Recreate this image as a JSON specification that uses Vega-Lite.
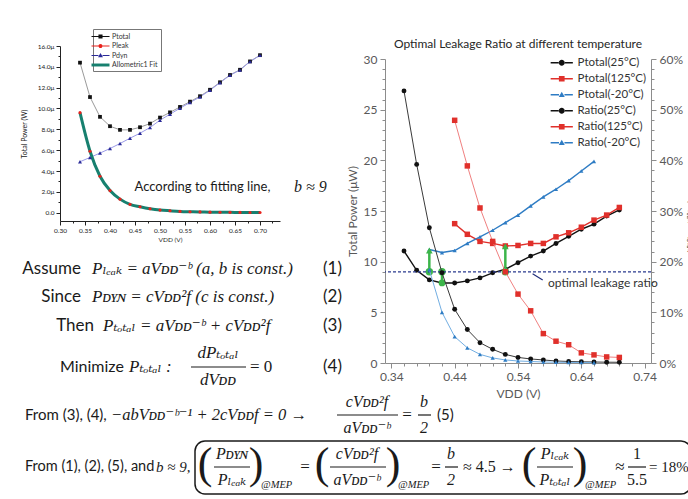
{
  "$schema": "https://vega.github.io/schema/vega-lite/v6.json",
  "background": "white",
  "padding": {"left": 20, "top": 28, "right": 0, "bottom": 0},
  "autosize": {"type": "pad"},
  "bounds": "flush",
  "spacing": 105,
  "resolve": {"scale": {"color": "independent", "shape": "independent"}, "legend": {"color": "independent", "shape": "independent"}},
  "config": {
    "font": "Lato",
    "view": {"stroke": null},
    "axis": {"grid": false, "labelFlush": false, "labelOverlap": false, "titleFontWeight": "normal"},
    "title": {"font": "Lato", "fontWeight": "normal"}
  },
  "datasets": {
    "left": [
      {"vdd":0.34,"series":"Ptotal","value":14.4},{"vdd":0.36,"series":"Ptotal","value":11.1},{"vdd":0.38,"series":"Ptotal","value":9.2},{"vdd":0.40,"series":"Ptotal","value":8.3},{"vdd":0.42,"series":"Ptotal","value":7.95},{"vdd":0.44,"series":"Ptotal","value":7.95},{"vdd":0.46,"series":"Ptotal","value":8.2},{"vdd":0.48,"series":"Ptotal","value":8.55},{"vdd":0.50,"series":"Ptotal","value":9.13},{"vdd":0.52,"series":"Ptotal","value":9.63},{"vdd":0.54,"series":"Ptotal","value":10.15},{"vdd":0.56,"series":"Ptotal","value":10.66},{"vdd":0.58,"series":"Ptotal","value":11.18},{"vdd":0.60,"series":"Ptotal","value":11.8},{"vdd":0.62,"series":"Ptotal","value":12.52},{"vdd":0.64,"series":"Ptotal","value":13.22},{"vdd":0.66,"series":"Ptotal","value":13.72},{"vdd":0.68,"series":"Ptotal","value":14.52},{"vdd":0.70,"series":"Ptotal","value":15.12},
      {"vdd":0.34,"series":"Pleak","value":9.6},{"vdd":0.36,"series":"Pleak","value":5.9},{"vdd":0.38,"series":"Pleak","value":3.5},{"vdd":0.40,"series":"Pleak","value":2.12},{"vdd":0.42,"series":"Pleak","value":1.3},{"vdd":0.44,"series":"Pleak","value":0.8},{"vdd":0.46,"series":"Pleak","value":0.57},{"vdd":0.48,"series":"Pleak","value":0.38},{"vdd":0.50,"series":"Pleak","value":0.25},{"vdd":0.52,"series":"Pleak","value":0.18},{"vdd":0.54,"series":"Pleak","value":0.12},{"vdd":0.56,"series":"Pleak","value":0.09},{"vdd":0.58,"series":"Pleak","value":0.07},{"vdd":0.60,"series":"Pleak","value":0.05},{"vdd":0.62,"series":"Pleak","value":0.04},{"vdd":0.64,"series":"Pleak","value":0.03},{"vdd":0.66,"series":"Pleak","value":0.025},{"vdd":0.68,"series":"Pleak","value":0.02},{"vdd":0.70,"series":"Pleak","value":0.015},
      {"vdd":0.34,"series":"Pdyn","value":4.89},{"vdd":0.36,"series":"Pdyn","value":5.3},{"vdd":0.38,"series":"Pdyn","value":5.72},{"vdd":0.40,"series":"Pdyn","value":6.16},{"vdd":0.42,"series":"Pdyn","value":6.64},{"vdd":0.44,"series":"Pdyn","value":7.15},{"vdd":0.46,"series":"Pdyn","value":7.63},{"vdd":0.48,"series":"Pdyn","value":8.17},{"vdd":0.50,"series":"Pdyn","value":8.88},{"vdd":0.52,"series":"Pdyn","value":9.45},{"vdd":0.54,"series":"Pdyn","value":10.03},{"vdd":0.56,"series":"Pdyn","value":10.57},{"vdd":0.58,"series":"Pdyn","value":11.11},{"vdd":0.60,"series":"Pdyn","value":11.75},{"vdd":0.62,"series":"Pdyn","value":12.48},{"vdd":0.64,"series":"Pdyn","value":13.19},{"vdd":0.66,"series":"Pdyn","value":13.7},{"vdd":0.68,"series":"Pdyn","value":14.5},{"vdd":0.70,"series":"Pdyn","value":15.1},
      {"vdd":0.34,"series":"Allometric1 Fit","value":9.6},{"vdd":0.36,"series":"Allometric1 Fit","value":5.9},{"vdd":0.38,"series":"Allometric1 Fit","value":3.5},{"vdd":0.40,"series":"Allometric1 Fit","value":2.12},{"vdd":0.42,"series":"Allometric1 Fit","value":1.3},{"vdd":0.44,"series":"Allometric1 Fit","value":0.8},{"vdd":0.46,"series":"Allometric1 Fit","value":0.57},{"vdd":0.48,"series":"Allometric1 Fit","value":0.38},{"vdd":0.50,"series":"Allometric1 Fit","value":0.25},{"vdd":0.52,"series":"Allometric1 Fit","value":0.18},{"vdd":0.54,"series":"Allometric1 Fit","value":0.12},{"vdd":0.56,"series":"Allometric1 Fit","value":0.09},{"vdd":0.58,"series":"Allometric1 Fit","value":0.07},{"vdd":0.60,"series":"Allometric1 Fit","value":0.05},{"vdd":0.62,"series":"Allometric1 Fit","value":0.04},{"vdd":0.64,"series":"Allometric1 Fit","value":0.03},{"vdd":0.66,"series":"Allometric1 Fit","value":0.025},{"vdd":0.68,"series":"Allometric1 Fit","value":0.02},{"vdd":0.70,"series":"Allometric1 Fit","value":0.015}
    ],
    "right": [
      {"vdd":0.36,"series":"Ptotal(25°C)","value":11.05},{"vdd":0.38,"series":"Ptotal(25°C)","value":9.15},{"vdd":0.40,"series":"Ptotal(25°C)","value":8.2},{"vdd":0.42,"series":"Ptotal(25°C)","value":7.9},{"vdd":0.44,"series":"Ptotal(25°C)","value":7.9},{"vdd":0.46,"series":"Ptotal(25°C)","value":8.1},{"vdd":0.48,"series":"Ptotal(25°C)","value":8.4},{"vdd":0.50,"series":"Ptotal(25°C)","value":8.9},{"vdd":0.52,"series":"Ptotal(25°C)","value":9.25},{"vdd":0.54,"series":"Ptotal(25°C)","value":9.9},{"vdd":0.56,"series":"Ptotal(25°C)","value":10.55},{"vdd":0.58,"series":"Ptotal(25°C)","value":11.05},{"vdd":0.60,"series":"Ptotal(25°C)","value":11.8},{"vdd":0.62,"series":"Ptotal(25°C)","value":12.5},{"vdd":0.64,"series":"Ptotal(25°C)","value":13.2},{"vdd":0.66,"series":"Ptotal(25°C)","value":13.7},{"vdd":0.68,"series":"Ptotal(25°C)","value":14.5},{"vdd":0.70,"series":"Ptotal(25°C)","value":15.1},
      {"vdd":0.44,"series":"Ptotal(125°C)","value":13.75},{"vdd":0.46,"series":"Ptotal(125°C)","value":12.7},{"vdd":0.48,"series":"Ptotal(125°C)","value":12.0},{"vdd":0.50,"series":"Ptotal(125°C)","value":11.8},{"vdd":0.52,"series":"Ptotal(125°C)","value":11.55},{"vdd":0.54,"series":"Ptotal(125°C)","value":11.6},{"vdd":0.56,"series":"Ptotal(125°C)","value":11.8},{"vdd":0.58,"series":"Ptotal(125°C)","value":11.8},{"vdd":0.60,"series":"Ptotal(125°C)","value":12.45},{"vdd":0.62,"series":"Ptotal(125°C)","value":12.85},{"vdd":0.64,"series":"Ptotal(125°C)","value":13.4},{"vdd":0.66,"series":"Ptotal(125°C)","value":14.1},{"vdd":0.68,"series":"Ptotal(125°C)","value":14.6},{"vdd":0.70,"series":"Ptotal(125°C)","value":15.35},
      {"vdd":0.40,"series":"Ptotal(-20°C)","value":11.2},{"vdd":0.42,"series":"Ptotal(-20°C)","value":10.9},{"vdd":0.44,"series":"Ptotal(-20°C)","value":11.1},{"vdd":0.46,"series":"Ptotal(-20°C)","value":11.8},{"vdd":0.48,"series":"Ptotal(-20°C)","value":12.45},{"vdd":0.50,"series":"Ptotal(-20°C)","value":13.1},{"vdd":0.52,"series":"Ptotal(-20°C)","value":13.85},{"vdd":0.54,"series":"Ptotal(-20°C)","value":14.6},{"vdd":0.56,"series":"Ptotal(-20°C)","value":15.5},{"vdd":0.58,"series":"Ptotal(-20°C)","value":16.4},{"vdd":0.60,"series":"Ptotal(-20°C)","value":17.15},{"vdd":0.62,"series":"Ptotal(-20°C)","value":18.0},{"vdd":0.64,"series":"Ptotal(-20°C)","value":18.95},{"vdd":0.66,"series":"Ptotal(-20°C)","value":19.9},
      {"vdd":0.36,"series":"Ratio(25°C)","value":0.537},{"vdd":0.38,"series":"Ratio(25°C)","value":0.392},{"vdd":0.40,"series":"Ratio(25°C)","value":0.267},{"vdd":0.42,"series":"Ratio(25°C)","value":0.178},{"vdd":0.44,"series":"Ratio(25°C)","value":0.106},{"vdd":0.46,"series":"Ratio(25°C)","value":0.066},{"vdd":0.48,"series":"Ratio(25°C)","value":0.04},{"vdd":0.50,"series":"Ratio(25°C)","value":0.027},{"vdd":0.52,"series":"Ratio(25°C)","value":0.017},{"vdd":0.54,"series":"Ratio(25°C)","value":0.011},{"vdd":0.56,"series":"Ratio(25°C)","value":0.008},{"vdd":0.58,"series":"Ratio(25°C)","value":0.006},{"vdd":0.60,"series":"Ratio(25°C)","value":0.004},{"vdd":0.62,"series":"Ratio(25°C)","value":0.003},{"vdd":0.64,"series":"Ratio(25°C)","value":0.0024},{"vdd":0.66,"series":"Ratio(25°C)","value":0.002},{"vdd":0.68,"series":"Ratio(25°C)","value":0.0016},{"vdd":0.70,"series":"Ratio(25°C)","value":0.0014},
      {"vdd":0.44,"series":"Ratio(125°C)","value":0.479},{"vdd":0.46,"series":"Ratio(125°C)","value":0.389},{"vdd":0.48,"series":"Ratio(125°C)","value":0.306},{"vdd":0.50,"series":"Ratio(125°C)","value":0.24},{"vdd":0.52,"series":"Ratio(125°C)","value":0.18},{"vdd":0.54,"series":"Ratio(125°C)","value":0.136},{"vdd":0.56,"series":"Ratio(125°C)","value":0.103},{"vdd":0.58,"series":"Ratio(125°C)","value":0.058},{"vdd":0.60,"series":"Ratio(125°C)","value":0.043},{"vdd":0.62,"series":"Ratio(125°C)","value":0.036},{"vdd":0.64,"series":"Ratio(125°C)","value":0.02},{"vdd":0.66,"series":"Ratio(125°C)","value":0.016},{"vdd":0.68,"series":"Ratio(125°C)","value":0.012},{"vdd":0.70,"series":"Ratio(125°C)","value":0.011},
      {"vdd":0.40,"series":"Ratio(-20°C)","value":0.184},{"vdd":0.42,"series":"Ratio(-20°C)","value":0.1},{"vdd":0.44,"series":"Ratio(-20°C)","value":0.052},{"vdd":0.46,"series":"Ratio(-20°C)","value":0.03},{"vdd":0.48,"series":"Ratio(-20°C)","value":0.017},{"vdd":0.50,"series":"Ratio(-20°C)","value":0.01},{"vdd":0.52,"series":"Ratio(-20°C)","value":0.006},{"vdd":0.54,"series":"Ratio(-20°C)","value":0.004},{"vdd":0.56,"series":"Ratio(-20°C)","value":0.003},{"vdd":0.58,"series":"Ratio(-20°C)","value":0.002},{"vdd":0.60,"series":"Ratio(-20°C)","value":0.0016},{"vdd":0.62,"series":"Ratio(-20°C)","value":0.0012},{"vdd":0.64,"series":"Ratio(-20°C)","value":0.001},{"vdd":0.66,"series":"Ratio(-20°C)","value":0.0008}
    ],
    "green": [
      {"vdd":0.40,"low":9.0,"high":11.1},
      {"vdd":0.42,"low":9.0,"high":7.9},
      {"vdd":0.52,"low":9.0,"high":11.5}
    ],
    "eq": [
      {"key":"assume","text":"Assume"},
      {"key":"f1","text":"Pₗₑₐₖ = aVᴅᴅ⁻ᵇ (a, b is const.)"},
      {"key":"n1","text":"(1)"},
      {"key":"since","text":"Since"},
      {"key":"f2","text":"Pᴅʏɴ = cVᴅᴅ²f (c is const.)"},
      {"key":"n2","text":"(2)"},
      {"key":"then","text":"Then"},
      {"key":"f3","text":"Pₜₒₜₐₗ = aVᴅᴅ⁻ᵇ + cVᴅᴅ²f"},
      {"key":"n3","text":"(3)"},
      {"key":"minimize","text":"Minimize"},
      {"key":"f4a","text":"Pₜₒₜₐₗ :"},
      {"key":"f4frac","text":"dPₜₒₜₐₗ\ndVᴅᴅ"},
      {"key":"f4b","text":"= 0"},
      {"key":"n4","text":"(4)"},
      {"key":"from34","text":"From (3), (4),"},
      {"key":"f5a","text":"−abVᴅᴅ⁻ᵇ⁻¹ + 2cVᴅᴅf = 0 →"},
      {"key":"f5frac","text":"cVᴅᴅ²f\naVᴅᴅ⁻ᵇ"},
      {"key":"f5eq","text":"="},
      {"key":"f5b","text":"b\n2"},
      {"key":"n5","text":"(5)"},
      {"key":"from125","text":"From (1), (2), (5), and"},
      {"key":"b9","text":"b ≈ 9,"},
      {"key":"box","text":""},
      {"key":"lp1","text":"("},
      {"key":"rp1","text":")"},
      {"key":"frac1","text":"Pᴅʏɴ\nPₗₑₐₖ"},
      {"key":"mep1","text":"@MEP"},
      {"key":"eqA","text":"="},
      {"key":"lp2","text":"("},
      {"key":"rp2","text":")"},
      {"key":"frac2","text":"cVᴅᴅ²f\naVᴅᴅ⁻ᵇ"},
      {"key":"mep2","text":"@MEP"},
      {"key":"eqB","text":"="},
      {"key":"frac3","text":"b\n2"},
      {"key":"approx45","text":"≈ 4.5 →"},
      {"key":"lp3","text":"("},
      {"key":"rp3","text":")"},
      {"key":"frac4","text":"Pₗₑₐₖ\nPₜₒₜₐₗ"},
      {"key":"mep3","text":"@MEP"},
      {"key":"approx","text":"≈"},
      {"key":"frac5","text":"1\n5.5"},
      {"key":"pct","text":"= 18%"}
    ]
  },
  "hconcat": [
    {
      "width": 220,
      "height": 175,
      "resolve": {"scale": {"x": "independent", "y": "independent"}},
      "layer": [
        {
          "data": {"name": "left"},
          "layer": [
            {
              "transform": [{"filter": "datum.series == 'Ptotal'"}],
              "mark": {"type": "line", "color": "#9a9a9a", "strokeWidth": 1},
              "encoding": {
                "x": {"field": "vdd", "type": "quantitative", "scale": {"domain": [0.3, 0.74], "nice": false, "zero": false},
                  "axis": {"values": [0.3,0.325,0.35,0.375,0.4,0.425,0.45,0.475,0.5,0.525,0.55,0.575,0.6,0.625,0.65,0.675,0.7,0.725],
                    "tickCount": 200,
                    "labelExpr": "round(datum.value*1000) % 50 == 0 ? format(datum.value, '.2f') : ''",
                    "labelOverlap": false, "labelFlush": false,
                    "tickSize": {"condition": {"test": "round(datum.value*1000) % 50 == 0", "value": 4}, "value": 2},
                    "labelFontSize": 6.5, "labelColor": "#222", "domainColor": "#222", "tickColor": "#222", "labelPadding": 2,
                    "title": "VDD (V)", "titleFontSize": 6.5, "titleColor": "#222", "titlePadding": 3}},
                "y": {"field": "value", "type": "quantitative", "scale": {"domain": [-0.8, 16], "nice": false, "zero": false},
                  "axis": {"values": [0,1,2,3,4,5,6,7,8,9,10,11,12,13,14,15,16],
                    "tickCount": 200,
                    "labelExpr": "datum.value % 2 == 0 ? (datum.value == 0 ? '0.0' : format(datum.value, '.1f') + 'μ') : ''",
                    "labelOverlap": false,
                    "tickSize": {"condition": {"test": "datum.value % 2 == 0", "value": 4}, "value": 2},
                    "labelFontSize": 6.5, "labelColor": "#222", "domainColor": "#222", "tickColor": "#222", "labelPadding": 2,
                    "title": "Total Power (W)", "titleFontSize": 7, "titleColor": "#222", "titlePadding": 10}}
              }
            },
            {
              "transform": [{"filter": "datum.series == 'Pdyn'"}],
              "mark": {"type": "line", "color": "#9a9ae8", "strokeWidth": 1},
              "encoding": {"x": {"field": "vdd", "type": "quantitative"}, "y": {"field": "value", "type": "quantitative"}}
            },
            {
              "transform": [{"filter": "datum.series == 'Pleak'"}],
              "mark": {"type": "line", "color": "#e8221c", "strokeWidth": 1},
              "encoding": {"x": {"field": "vdd", "type": "quantitative"}, "y": {"field": "value", "type": "quantitative"}}
            },
            {
              "transform": [{"filter": "datum.series == 'Allometric1 Fit'"}],
              "mark": {"type": "line", "color": "#17806f", "strokeWidth": 3, "interpolate": "monotone"},
              "encoding": {"x": {"field": "vdd", "type": "quantitative"}, "y": {"field": "value", "type": "quantitative"}}
            },
            {
              "transform": [{"filter": "datum.series == 'Ptotal'"}],
              "mark": {"type": "point", "shape": "square", "filled": true, "color": "#111", "size": 14, "opacity": 1},
              "encoding": {"x": {"field": "vdd", "type": "quantitative"}, "y": {"field": "value", "type": "quantitative"}}
            },
            {
              "transform": [{"filter": "datum.series == 'Pleak'"}],
              "mark": {"type": "point", "shape": "circle", "filled": true, "color": "#e8221c", "size": 10, "opacity": 1},
              "encoding": {"x": {"field": "vdd", "type": "quantitative"}, "y": {"field": "value", "type": "quantitative"}}
            },
            {
              "transform": [{"filter": "datum.series == 'Pdyn'"}],
              "mark": {"type": "point", "shape": "triangle-up", "filled": true, "color": "#2a2a98", "size": 16, "opacity": 1},
              "encoding": {"x": {"field": "vdd", "type": "quantitative"}, "y": {"field": "value", "type": "quantitative"}}
            },
            {
              "transform": [{"filter": "false"}],
              "mark": {"type": "point", "filled": true, "opacity": 1, "strokeWidth": 0},
              "encoding": {
                "color": {"field": "series", "type": "nominal",
                  "scale": {"domain": ["Ptotal", "Pleak", "Pdyn", "Allometric1 Fit"], "range": ["#111111", "#e8221c", "#2a2a98", "#17806f"]},
                  "legend": {"title": null, "orient": "none", "legendX": 33, "legendY": -17, "padding": 3,
                    "strokeColor": "#777", "fillColor": "white", "labelFontSize": 7, "labelColor": "#333",
                    "labelOffset": 7, "rowPadding": 1.5, "symbolSize": 67, "symbolStrokeWidth": 0}},
                "shape": {"field": "series", "type": "nominal",
                  "scale": {"domain": ["Ptotal", "Pleak", "Pdyn", "Allometric1 Fit"],
                    "range": [
                      "M-2.2,-0.12H-0.5V0.12H-2.2Z M0.5,-0.12H2.2V0.12H0.5Z M-0.5,-0.5H0.5V0.5H-0.5Z",
                      "M-2.2,-0.12H-0.5V0.12H-2.2Z M0.5,-0.12H2.2V0.12H0.5Z M-0.5,0A0.5,0.5 0 1,0 0.5,0A0.5,0.5 0 1,0 -0.5,0Z",
                      "M-2.2,-0.12H-0.5V0.12H-2.2Z M0.5,-0.12H2.2V0.12H0.5Z M0,-0.6L0.6,0.45H-0.6Z",
                      "M-2.2,-0.36H2.2V0.36H-2.2Z"
                    ]}}
              }
            },
            {
              "data": {"values": [{"label": "According to fitting line,"}]},
              "mark": {"type": "text", "align": "left", "baseline": "middle", "font": "Lato", "fontSize": 13, "color": "#1a1a1a"},
              "encoding": {"x": {"datum": 0.449}, "y": {"datum": 2.46}, "text": {"field": "label"}}
            },
            {
              "data": {"values": [{"label": "b ≈ 9"}]},
              "mark": {"type": "text", "align": "left", "baseline": "middle", "font": "Liberation Serif", "fontStyle": "italic", "fontSize": 16, "color": "#1a1a1a"},
              "encoding": {"x": {"datum": 0.768}, "y": {"datum": 2.46}, "text": {"field": "label"}}
            }
          ]
        },
        {
          "data": {"name": "eq"},
          "layer": [
            {"transform": [{"filter": "datum.key == 'assume'"}], "mark": {"type": "text", "align": "right", "baseline": "middle", "font": "Lato", "fontSize": 17, "color": "#1a1a1a"},
             "encoding": {"x": {"datum": 76, "type": "quantitative", "scale": {"domain": [55, 275], "nice": false, "zero": false}, "axis": null},
                          "y": {"datum": 268, "type": "quantitative", "scale": {"domain": [45, 220], "nice": false, "zero": false, "reverse": true}, "axis": null},
                          "text": {"field": "text"}}},
            {"transform": [{"filter": "datum.key == 'f1'"}], "mark": {"type": "text", "align": "left", "baseline": "middle", "font": "Liberation Serif, DejaVu Serif", "fontStyle": "italic", "fontSize": 17, "color": "#1a1a1a"},
             "encoding": {"x": {"datum": 87, "axis": null}, "y": {"datum": 268, "axis": null}, "text": {"field": "text"}}},
            {"transform": [{"filter": "datum.key == 'n1'"}], "mark": {"type": "text", "align": "left", "baseline": "middle", "font": "Lato", "fontSize": 17, "color": "#1a1a1a"},
             "encoding": {"x": {"datum": 318, "axis": null}, "y": {"datum": 268, "axis": null}, "text": {"field": "text"}}},
            {"transform": [{"filter": "datum.key == 'since'"}], "mark": {"type": "text", "align": "right", "baseline": "middle", "font": "Lato", "fontSize": 17, "color": "#1a1a1a"},
             "encoding": {"x": {"datum": 76, "axis": null}, "y": {"datum": 296, "axis": null}, "text": {"field": "text"}}},
            {"transform": [{"filter": "datum.key == 'f2'"}], "mark": {"type": "text", "align": "left", "baseline": "middle", "font": "Liberation Serif, DejaVu Serif", "fontStyle": "italic", "fontSize": 17, "color": "#1a1a1a"},
             "encoding": {"x": {"datum": 87, "axis": null}, "y": {"datum": 296, "axis": null}, "text": {"field": "text"}}},
            {"transform": [{"filter": "datum.key == 'n2'"}], "mark": {"type": "text", "align": "left", "baseline": "middle", "font": "Lato", "fontSize": 17, "color": "#1a1a1a"},
             "encoding": {"x": {"datum": 318, "axis": null}, "y": {"datum": 296, "axis": null}, "text": {"field": "text"}}},
            {"transform": [{"filter": "datum.key == 'then'"}], "mark": {"type": "text", "align": "right", "baseline": "middle", "font": "Lato", "fontSize": 17, "color": "#1a1a1a"},
             "encoding": {"x": {"datum": 89, "axis": null}, "y": {"datum": 325, "axis": null}, "text": {"field": "text"}}},
            {"transform": [{"filter": "datum.key == 'f3'"}], "mark": {"type": "text", "align": "left", "baseline": "middle", "font": "Liberation Serif, DejaVu Serif", "fontStyle": "italic", "fontSize": 17, "color": "#1a1a1a"},
             "encoding": {"x": {"datum": 98, "axis": null}, "y": {"datum": 325, "axis": null}, "text": {"field": "text"}}},
            {"transform": [{"filter": "datum.key == 'n3'"}], "mark": {"type": "text", "align": "left", "baseline": "middle", "font": "Lato", "fontSize": 17, "color": "#1a1a1a"},
             "encoding": {"x": {"datum": 318, "axis": null}, "y": {"datum": 325, "axis": null}, "text": {"field": "text"}}},
            {"transform": [{"filter": "datum.key == 'minimize'"}], "mark": {"type": "text", "align": "left", "baseline": "middle", "font": "Lato", "fontSize": 16, "color": "#1a1a1a"},
             "encoding": {"x": {"datum": 55, "axis": null}, "y": {"datum": 366, "axis": null}, "text": {"field": "text"}}},
            {"transform": [{"filter": "datum.key == 'f4a'"}], "mark": {"type": "text", "align": "left", "baseline": "middle", "font": "Liberation Serif, DejaVu Serif", "fontStyle": "italic", "fontSize": 17, "color": "#1a1a1a"},
             "encoding": {"x": {"datum": 124, "axis": null}, "y": {"datum": 366, "axis": null}, "text": {"field": "text"}}},
            {"transform": [{"filter": "datum.key == 'f4frac'"}], "mark": {"type": "text", "align": "center", "baseline": "middle", "lineBreak": "\n", "lineHeight": 27, "font": "Liberation Serif, DejaVu Serif", "fontStyle": "italic", "fontSize": 17, "color": "#1a1a1a"},
             "encoding": {"x": {"datum": 213, "axis": null}, "y": {"datum": 352, "axis": null}, "text": {"field": "text"}}},
            {"transform": [{"filter": "datum.key == 'f4frac'"}], "mark": {"type": "rule", "color": "#1a1a1a", "strokeWidth": 1.2},
             "encoding": {"x": {"datum": 186, "axis": null}, "x2": {"datum": 241}, "y": {"datum": 366, "axis": null}}},
            {"transform": [{"filter": "datum.key == 'f4b'"}], "mark": {"type": "text", "align": "left", "baseline": "middle", "font": "Liberation Serif, DejaVu Serif", "fontSize": 17, "color": "#1a1a1a"},
             "encoding": {"x": {"datum": 245, "axis": null}, "y": {"datum": 366, "axis": null}, "text": {"field": "text"}}},
            {"transform": [{"filter": "datum.key == 'n4'"}], "mark": {"type": "text", "align": "left", "baseline": "middle", "font": "Lato", "fontSize": 17, "color": "#1a1a1a"},
             "encoding": {"x": {"datum": 318, "axis": null}, "y": {"datum": 366, "axis": null}, "text": {"field": "text"}}},
            {"transform": [{"filter": "datum.key == 'from34'"}], "mark": {"type": "text", "align": "left", "baseline": "middle", "font": "Lato", "fontSize": 15, "color": "#1a1a1a"},
             "encoding": {"x": {"datum": 20, "axis": null}, "y": {"datum": 414, "axis": null}, "text": {"field": "text"}}},
            {"transform": [{"filter": "datum.key == 'f5a'"}], "mark": {"type": "text", "align": "left", "baseline": "middle", "font": "Liberation Serif, DejaVu Serif", "fontStyle": "italic", "fontSize": 16.5, "color": "#1a1a1a"},
             "encoding": {"x": {"datum": 106, "axis": null}, "y": {"datum": 414, "axis": null}, "text": {"field": "text"}}},
            {"transform": [{"filter": "datum.key == 'f5frac'"}], "mark": {"type": "text", "align": "center", "baseline": "middle", "lineBreak": "\n", "lineHeight": 26, "font": "Liberation Serif, DejaVu Serif", "fontStyle": "italic", "fontSize": 16, "color": "#1a1a1a"},
             "encoding": {"x": {"datum": 362, "axis": null}, "y": {"datum": 401, "axis": null}, "text": {"field": "text"}}},
            {"transform": [{"filter": "datum.key == 'f5frac'"}], "mark": {"type": "rule", "color": "#1a1a1a", "strokeWidth": 1.2},
             "encoding": {"x": {"datum": 332, "axis": null}, "x2": {"datum": 393}, "y": {"datum": 414, "axis": null}}},
            {"transform": [{"filter": "datum.key == 'f5eq'"}], "mark": {"type": "text", "align": "center", "baseline": "middle", "font": "Liberation Serif, DejaVu Serif", "fontSize": 17, "color": "#1a1a1a"},
             "encoding": {"x": {"datum": 402, "axis": null}, "y": {"datum": 414, "axis": null}, "text": {"field": "text"}}},
            {"transform": [{"filter": "datum.key == 'f5b'"}], "mark": {"type": "text", "align": "center", "baseline": "middle", "lineBreak": "\n", "lineHeight": 26, "font": "Liberation Serif, DejaVu Serif", "fontStyle": "italic", "fontSize": 16, "color": "#1a1a1a"},
             "encoding": {"x": {"datum": 419, "axis": null}, "y": {"datum": 401, "axis": null}, "text": {"field": "text"}}},
            {"transform": [{"filter": "datum.key == 'f5b'"}], "mark": {"type": "rule", "color": "#1a1a1a", "strokeWidth": 1.2},
             "encoding": {"x": {"datum": 413, "axis": null}, "x2": {"datum": 426}, "y": {"datum": 414, "axis": null}}},
            {"transform": [{"filter": "datum.key == 'n5'"}], "mark": {"type": "text", "align": "left", "baseline": "middle", "font": "Lato", "fontSize": 15, "color": "#1a1a1a"},
             "encoding": {"x": {"datum": 432, "axis": null}, "y": {"datum": 414, "axis": null}, "text": {"field": "text"}}},
            {"transform": [{"filter": "datum.key == 'from125'"}], "mark": {"type": "text", "align": "left", "baseline": "middle", "font": "Lato", "fontSize": 14.5, "color": "#1a1a1a"},
             "encoding": {"x": {"datum": 20, "axis": null}, "y": {"datum": 466, "axis": null}, "text": {"field": "text"}}},
            {"transform": [{"filter": "datum.key == 'b9'"}], "mark": {"type": "text", "align": "left", "baseline": "middle", "font": "Liberation Serif, DejaVu Serif", "fontStyle": "italic", "fontSize": 15, "color": "#1a1a1a"},
             "encoding": {"x": {"datum": 151, "axis": null}, "y": {"datum": 466, "axis": null}, "text": {"field": "text"}}},
            {"transform": [{"filter": "datum.key == 'box'"}], "mark": {"type": "rect", "fill": null, "fillOpacity": 0, "stroke": "#1a1a1a", "strokeWidth": 1.5, "cornerRadius": 10},
             "encoding": {"x": {"datum": 190, "axis": null}, "x2": {"datum": 686}, "y": {"datum": 440, "axis": null}, "y2": {"datum": 493}}},
            {"transform": [{"filter": "datum.key == 'lp1'"}], "mark": {"type": "text", "align": "center", "baseline": "middle", "font": "Liberation Serif", "fontSize": 44, "color": "#1a1a1a"},
             "encoding": {"x": {"datum": 200, "axis": null}, "y": {"datum": 464, "axis": null}, "text": {"field": "text"}}},
            {"transform": [{"filter": "datum.key == 'frac1'"}], "mark": {"type": "text", "align": "center", "baseline": "middle", "lineBreak": "\n", "lineHeight": 26, "font": "Liberation Serif, DejaVu Serif", "fontStyle": "italic", "fontSize": 16, "color": "#1a1a1a"},
             "encoding": {"x": {"datum": 227, "axis": null}, "y": {"datum": 453, "axis": null}, "text": {"field": "text"}}},
            {"transform": [{"filter": "datum.key == 'frac1'"}], "mark": {"type": "rule", "color": "#1a1a1a", "strokeWidth": 1.2},
             "encoding": {"x": {"datum": 209, "axis": null}, "x2": {"datum": 245}, "y": {"datum": 466, "axis": null}}},
            {"transform": [{"filter": "datum.key == 'rp1'"}], "mark": {"type": "text", "align": "center", "baseline": "middle", "font": "Liberation Serif", "fontSize": 44, "color": "#1a1a1a"},
             "encoding": {"x": {"datum": 251, "axis": null}, "y": {"datum": 464, "axis": null}, "text": {"field": "text"}}},
            {"transform": [{"filter": "datum.key == 'mep1'"}], "mark": {"type": "text", "align": "left", "baseline": "middle", "font": "Liberation Serif", "fontStyle": "italic", "fontSize": 10.5, "color": "#1a1a1a"},
             "encoding": {"x": {"datum": 256, "axis": null}, "y": {"datum": 484, "axis": null}, "text": {"field": "text"}}},
            {"transform": [{"filter": "datum.key == 'eqA'"}], "mark": {"type": "text", "align": "center", "baseline": "middle", "font": "Liberation Serif", "fontSize": 17, "color": "#1a1a1a"},
             "encoding": {"x": {"datum": 300, "axis": null}, "y": {"datum": 466, "axis": null}, "text": {"field": "text"}}},
            {"transform": [{"filter": "datum.key == 'lp2'"}], "mark": {"type": "text", "align": "center", "baseline": "middle", "font": "Liberation Serif", "fontSize": 44, "color": "#1a1a1a"},
             "encoding": {"x": {"datum": 317, "axis": null}, "y": {"datum": 464, "axis": null}, "text": {"field": "text"}}},
            {"transform": [{"filter": "datum.key == 'frac2'"}], "mark": {"type": "text", "align": "center", "baseline": "middle", "lineBreak": "\n", "lineHeight": 26, "font": "Liberation Serif, DejaVu Serif", "fontStyle": "italic", "fontSize": 16, "color": "#1a1a1a"},
             "encoding": {"x": {"datum": 352, "axis": null}, "y": {"datum": 453, "axis": null}, "text": {"field": "text"}}},
            {"transform": [{"filter": "datum.key == 'frac2'"}], "mark": {"type": "rule", "color": "#1a1a1a", "strokeWidth": 1.2},
             "encoding": {"x": {"datum": 325, "axis": null}, "x2": {"datum": 381}, "y": {"datum": 466, "axis": null}}},
            {"transform": [{"filter": "datum.key == 'rp2'"}], "mark": {"type": "text", "align": "center", "baseline": "middle", "font": "Liberation Serif", "fontSize": 44, "color": "#1a1a1a"},
             "encoding": {"x": {"datum": 388, "axis": null}, "y": {"datum": 464, "axis": null}, "text": {"field": "text"}}},
            {"transform": [{"filter": "datum.key == 'mep2'"}], "mark": {"type": "text", "align": "left", "baseline": "middle", "font": "Liberation Serif", "fontStyle": "italic", "fontSize": 10.5, "color": "#1a1a1a"},
             "encoding": {"x": {"datum": 393, "axis": null}, "y": {"datum": 484, "axis": null}, "text": {"field": "text"}}},
            {"transform": [{"filter": "datum.key == 'eqB'"}], "mark": {"type": "text", "align": "center", "baseline": "middle", "font": "Liberation Serif", "fontSize": 17, "color": "#1a1a1a"},
             "encoding": {"x": {"datum": 431, "axis": null}, "y": {"datum": 466, "axis": null}, "text": {"field": "text"}}},
            {"transform": [{"filter": "datum.key == 'frac3'"}], "mark": {"type": "text", "align": "center", "baseline": "middle", "lineBreak": "\n", "lineHeight": 26, "font": "Liberation Serif, DejaVu Serif", "fontStyle": "italic", "fontSize": 16, "color": "#1a1a1a"},
             "encoding": {"x": {"datum": 446, "axis": null}, "y": {"datum": 453, "axis": null}, "text": {"field": "text"}}},
            {"transform": [{"filter": "datum.key == 'frac3'"}], "mark": {"type": "rule", "color": "#1a1a1a", "strokeWidth": 1.2},
             "encoding": {"x": {"datum": 440, "axis": null}, "x2": {"datum": 453}, "y": {"datum": 466, "axis": null}}},
            {"transform": [{"filter": "datum.key == 'approx45'"}], "mark": {"type": "text", "align": "left", "baseline": "middle", "font": "Liberation Serif", "fontSize": 16, "color": "#1a1a1a"},
             "encoding": {"x": {"datum": 458, "axis": null}, "y": {"datum": 466, "axis": null}, "text": {"field": "text"}}},
            {"transform": [{"filter": "datum.key == 'lp3'"}], "mark": {"type": "text", "align": "center", "baseline": "middle", "font": "Liberation Serif", "fontSize": 44, "color": "#1a1a1a"},
             "encoding": {"x": {"datum": 524, "axis": null}, "y": {"datum": 464, "axis": null}, "text": {"field": "text"}}},
            {"transform": [{"filter": "datum.key == 'frac4'"}], "mark": {"type": "text", "align": "center", "baseline": "middle", "lineBreak": "\n", "lineHeight": 26, "font": "Liberation Serif, DejaVu Serif", "fontStyle": "italic", "fontSize": 16, "color": "#1a1a1a"},
             "encoding": {"x": {"datum": 550, "axis": null}, "y": {"datum": 453, "axis": null}, "text": {"field": "text"}}},
            {"transform": [{"filter": "datum.key == 'frac4'"}], "mark": {"type": "rule", "color": "#1a1a1a", "strokeWidth": 1.2},
             "encoding": {"x": {"datum": 532, "axis": null}, "x2": {"datum": 568}, "y": {"datum": 466, "axis": null}}},
            {"transform": [{"filter": "datum.key == 'rp3'"}], "mark": {"type": "text", "align": "center", "baseline": "middle", "font": "Liberation Serif", "fontSize": 44, "color": "#1a1a1a"},
             "encoding": {"x": {"datum": 575, "axis": null}, "y": {"datum": 464, "axis": null}, "text": {"field": "text"}}},
            {"transform": [{"filter": "datum.key == 'mep3'"}], "mark": {"type": "text", "align": "left", "baseline": "middle", "font": "Liberation Serif", "fontStyle": "italic", "fontSize": 10.5, "color": "#1a1a1a"},
             "encoding": {"x": {"datum": 580, "axis": null}, "y": {"datum": 484, "axis": null}, "text": {"field": "text"}}},
            {"transform": [{"filter": "datum.key == 'approx'"}], "mark": {"type": "text", "align": "center", "baseline": "middle", "font": "Liberation Serif", "fontSize": 17, "color": "#1a1a1a"},
             "encoding": {"x": {"datum": 615, "axis": null}, "y": {"datum": 466, "axis": null}, "text": {"field": "text"}}},
            {"transform": [{"filter": "datum.key == 'frac5'"}], "mark": {"type": "text", "align": "center", "baseline": "middle", "lineBreak": "\n", "lineHeight": 26, "font": "Liberation Serif", "fontSize": 16, "color": "#1a1a1a"},
             "encoding": {"x": {"datum": 632, "axis": null}, "y": {"datum": 453, "axis": null}, "text": {"field": "text"}}},
            {"transform": [{"filter": "datum.key == 'frac5'"}], "mark": {"type": "rule", "color": "#1a1a1a", "strokeWidth": 1.2},
             "encoding": {"x": {"datum": 623, "axis": null}, "x2": {"datum": 641}, "y": {"datum": 466, "axis": null}}},
            {"transform": [{"filter": "datum.key == 'pct'"}], "mark": {"type": "text", "align": "left", "baseline": "middle", "font": "Liberation Serif", "fontSize": 15, "color": "#1a1a1a"},
             "encoding": {"x": {"datum": 644, "axis": null}, "y": {"datum": 466, "axis": null}, "text": {"field": "text"}}}
          ]
        }
      ]
    },
    {
      "width": 266,
      "height": 317,
      "title": {"text": "Optimal Leakage Ratio at different temperature", "fontSize": 12, "color": "#262626", "offset": -5, "frame": "group", "anchor": "middle", "font": "Lato", "fontWeight": "normal"},
      "data": {"name": "right"},
      "resolve": {"scale": {"y": "independent"}},
      "layer": [
        {
          "layer": [
            {
              "transform": [{"filter": "indexof(datum.series, 'Ptotal') == 0"}],
              "mark": {"type": "line", "strokeWidth": 1.4},
              "encoding": {
                "x": {"field": "vdd", "type": "quantitative", "scale": {"domain": [0.33, 0.75], "nice": false, "zero": false},
                  "axis": {"values": [0.34,0.36,0.38,0.4,0.42,0.44,0.46,0.48,0.5,0.52,0.54,0.56,0.58,0.6,0.62,0.64,0.66,0.68,0.7,0.72,0.74],
                    "tickCount": 200,
                    "labelExpr": "round(datum.value*100) % 10 == 4 ? format(datum.value, '.2f') : ''",
                    "labelOverlap": false, "labelFlush": false,
                    "tickSize": {"condition": {"test": "round(datum.value*100) % 10 == 4", "value": 5}, "value": 3},
                    "labelFontSize": 12, "labelColor": "#595959", "domainColor": "#8c8c8c", "tickColor": "#8c8c8c", "labelPadding": 3,
                    "title": "VDD (V)", "titleFontSize": 12, "titleColor": "#595959", "titlePadding": 6}},
                "y": {"field": "value", "type": "quantitative", "scale": {"domain": [0, 30], "nice": false, "zero": false, "range": [317, 13]},
                  "axis": {"orient": "left", "values": [0,1,2,3,4,5,6,7,8,9,10,11,12,13,14,15,16,17,18,19,20,21,22,23,24,25,26,27,28,29,30],
                    "tickCount": 200,
                    "labelExpr": "datum.value % 5 == 0 ? format(datum.value, 'd') : ''",
                    "labelOverlap": false,
                    "tickSize": {"condition": {"test": "datum.value % 5 == 0", "value": 5}, "value": 3},
                    "labelFontSize": 12, "labelColor": "#595959", "domainColor": "#8c8c8c", "tickColor": "#8c8c8c", "labelPadding": 3,
                    "title": "Total Power (μW)", "titleFontSize": 12, "titleColor": "#595959", "titlePadding": 4}},
                "stroke": {"field": "series", "type": "nominal", "legend": null,
                  "scale": {"domain": ["Ptotal(25°C)", "Ptotal(125°C)", "Ptotal(-20°C)", "Ratio(25°C)", "Ratio(125°C)", "Ratio(-20°C)"],
                    "range": ["#111111", "#e0302b", "#2e7cc4", "#3a3a3a", "#f08080", "#72aee2"]}}
              }
            },
            {
              "transform": [{"filter": "datum.series == 'Ptotal(25°C)'"}],
              "mark": {"type": "point", "shape": "circle", "filled": true, "color": "#111111", "size": 24, "opacity": 1},
              "encoding": {"x": {"field": "vdd", "type": "quantitative"}, "y": {"field": "value", "type": "quantitative"}}
            },
            {
              "transform": [{"filter": "datum.series == 'Ptotal(125°C)'"}],
              "mark": {"type": "point", "shape": "square", "filled": true, "color": "#e0302b", "size": 30, "opacity": 1},
              "encoding": {"x": {"field": "vdd", "type": "quantitative"}, "y": {"field": "value", "type": "quantitative"}}
            },
            {
              "transform": [{"filter": "datum.series == 'Ptotal(-20°C)'"}],
              "mark": {"type": "point", "shape": "triangle-up", "filled": true, "color": "#2e7cc4", "size": 18, "opacity": 1},
              "encoding": {"x": {"field": "vdd", "type": "quantitative"}, "y": {"field": "value", "type": "quantitative"}}
            },
            {
              "data": {"name": "green"},
              "mark": {"type": "rule", "color": "#3cb54a", "strokeWidth": 2.5},
              "encoding": {"x": {"field": "vdd", "type": "quantitative"}, "y": {"field": "low", "type": "quantitative"}, "y2": {"field": "high"}}
            },
            {
              "data": {"name": "green"},
              "mark": {"type": "point", "shape": "circle", "filled": true, "color": "#3cb54a", "size": 55, "opacity": 1},
              "encoding": {"x": {"field": "vdd", "type": "quantitative"}, "y": {"field": "low", "type": "quantitative"}}
            },
            {
              "data": {"name": "green"},
              "mark": {"type": "point", "filled": true, "color": "#3cb54a", "size": 45, "opacity": 1},
              "encoding": {"x": {"field": "vdd", "type": "quantitative"}, "y": {"field": "high", "type": "quantitative"},
                "shape": {"condition": {"test": "datum.high > datum.low", "value": "triangle-up"}, "value": "circle"}}
            },
            {
              "data": {"values": [{"label": "optimal leakage ratio"}]},
              "mark": {"type": "text", "align": "left", "baseline": "middle", "font": "Lato", "fontSize": 12, "color": "#333333"},
              "encoding": {"x": {"datum": 0.5874}, "y": {"datum": 7.9}, "text": {"field": "label"}}
            },
            {
              "data": {"values": [{"label": "arrow"}]},
              "mark": {"type": "rule", "color": "#1f2d7a", "strokeWidth": 1.2},
              "encoding": {"x": {"datum": 0.579}, "x2": {"datum": 0.563}, "y": {"datum": 8.2}, "y2": {"datum": 8.8}}
            },
            {
              "transform": [{"filter": "false"}],
              "mark": {"type": "point", "filled": true, "opacity": 1, "strokeWidth": 0},
              "encoding": {
                "color": {"field": "series", "type": "nominal",
                  "scale": {"domain": ["Ptotal(25°C)", "Ptotal(125°C)", "Ptotal(-20°C)", "Ratio(25°C)", "Ratio(125°C)", "Ratio(-20°C)"],
                    "range": ["#111111", "#e0302b", "#2e7cc4", "#111111", "#e0302b", "#2e7cc4"]},
                  "legend": {"title": null, "orient": "none", "legendX": 171, "legendY": 11, "padding": 0,
                    "labelFontSize": 11.5, "labelColor": "#333333", "labelOffset": 10, "rowPadding": 3,
                    "symbolSize": 36, "symbolStrokeWidth": 0}},
                "shape": {"field": "series", "type": "nominal",
                  "scale": {"domain": ["Ptotal(25°C)", "Ptotal(125°C)", "Ptotal(-20°C)", "Ratio(25°C)", "Ratio(125°C)", "Ratio(-20°C)"],
                    "range": [
                      "M-3.7,-0.22H-0.9V0.22H-3.7Z M0.9,-0.22H3.7V0.22H0.9Z M-1,0A1,1 0 1,0 1,0A1,1 0 1,0 -1,0Z",
                      "M-3.7,-0.22H-0.9V0.22H-3.7Z M0.9,-0.22H3.7V0.22H0.9Z M-0.95,-0.95H0.95V0.95H-0.95Z",
                      "M-3.7,-0.22H-0.9V0.22H-3.7Z M0.9,-0.22H3.7V0.22H0.9Z M0,-1L1,0.75H-1Z",
                      "M-3.7,-0.22H-0.9V0.22H-3.7Z M0.9,-0.22H3.7V0.22H0.9Z M-1,0A1,1 0 1,0 1,0A1,1 0 1,0 -1,0Z",
                      "M-3.7,-0.22H-0.9V0.22H-3.7Z M0.9,-0.22H3.7V0.22H0.9Z M-0.95,-0.95H0.95V0.95H-0.95Z",
                      "M-3.7,-0.22H-0.9V0.22H-3.7Z M0.9,-0.22H3.7V0.22H0.9Z M0,-1L1,0.75H-1Z"
                    ]}}
              }
            }
          ]
        },
        {
          "layer": [
            {
              "data": {"values": [{"ratio": 0.18}]},
              "mark": {"type": "rule", "color": "#2a3a8f", "strokeWidth": 1.3, "strokeDash": [3, 2]},
              "encoding": {"y": {"field": "ratio", "type": "quantitative", "scale": {"domain": [0, 0.6], "nice": false, "zero": false, "range": [317, 13]},
                "axis": {"orient": "right", "values": [0,0.02,0.04,0.06,0.08,0.1,0.12,0.14,0.16,0.18,0.2,0.22,0.24,0.26,0.28,0.3,0.32,0.34,0.36,0.38,0.4,0.42,0.44,0.46,0.48,0.5,0.52,0.54,0.56,0.58,0.6],
                  "tickCount": 200,
                  "labelExpr": "round(datum.value*100) % 10 == 0 ? format(datum.value, '.0%') : ''",
                  "labelOverlap": false,
                  "tickSize": {"condition": {"test": "round(datum.value*100) % 10 == 0", "value": 5}, "value": 3},
                  "labelFontSize": 12, "labelColor": "#595959", "domainColor": "#8c8c8c", "tickColor": "#8c8c8c", "labelPadding": 3,
                  "title": "Ratio (Pₗₑₐₖ/Pₜₒₜₐₗ)", "titleFontSize": 12, "titleColor": "#595959", "titlePadding": 3}}}
            },
            {
              "transform": [{"filter": "indexof(datum.series, 'Ratio') == 0"}],
              "mark": {"type": "line", "strokeWidth": 1},
              "encoding": {
                "x": {"field": "vdd", "type": "quantitative"},
                "y": {"field": "value", "type": "quantitative"},
                "stroke": {"field": "series", "type": "nominal", "legend": null,
                  "scale": {"domain": ["Ptotal(25°C)", "Ptotal(125°C)", "Ptotal(-20°C)", "Ratio(25°C)", "Ratio(125°C)", "Ratio(-20°C)"],
                    "range": ["#111111", "#e0302b", "#2e7cc4", "#3a3a3a", "#f08080", "#72aee2"]}}
              }
            },
            {
              "transform": [{"filter": "datum.series == 'Ratio(25°C)'"}],
              "mark": {"type": "point", "shape": "circle", "filled": true, "color": "#111111", "size": 24, "opacity": 1},
              "encoding": {"x": {"field": "vdd", "type": "quantitative"}, "y": {"field": "value", "type": "quantitative"}}
            },
            {
              "transform": [{"filter": "datum.series == 'Ratio(125°C)'"}],
              "mark": {"type": "point", "shape": "square", "filled": true, "color": "#e0302b", "size": 30, "opacity": 1},
              "encoding": {"x": {"field": "vdd", "type": "quantitative"}, "y": {"field": "value", "type": "quantitative"}}
            },
            {
              "transform": [{"filter": "datum.series == 'Ratio(-20°C)'"}],
              "mark": {"type": "point", "shape": "triangle-up", "filled": true, "color": "#2e7cc4", "size": 18, "opacity": 1},
              "encoding": {"x": {"field": "vdd", "type": "quantitative"}, "y": {"field": "value", "type": "quantitative"}}
            }
          ]
        }
      ]
    }
  ]
}
